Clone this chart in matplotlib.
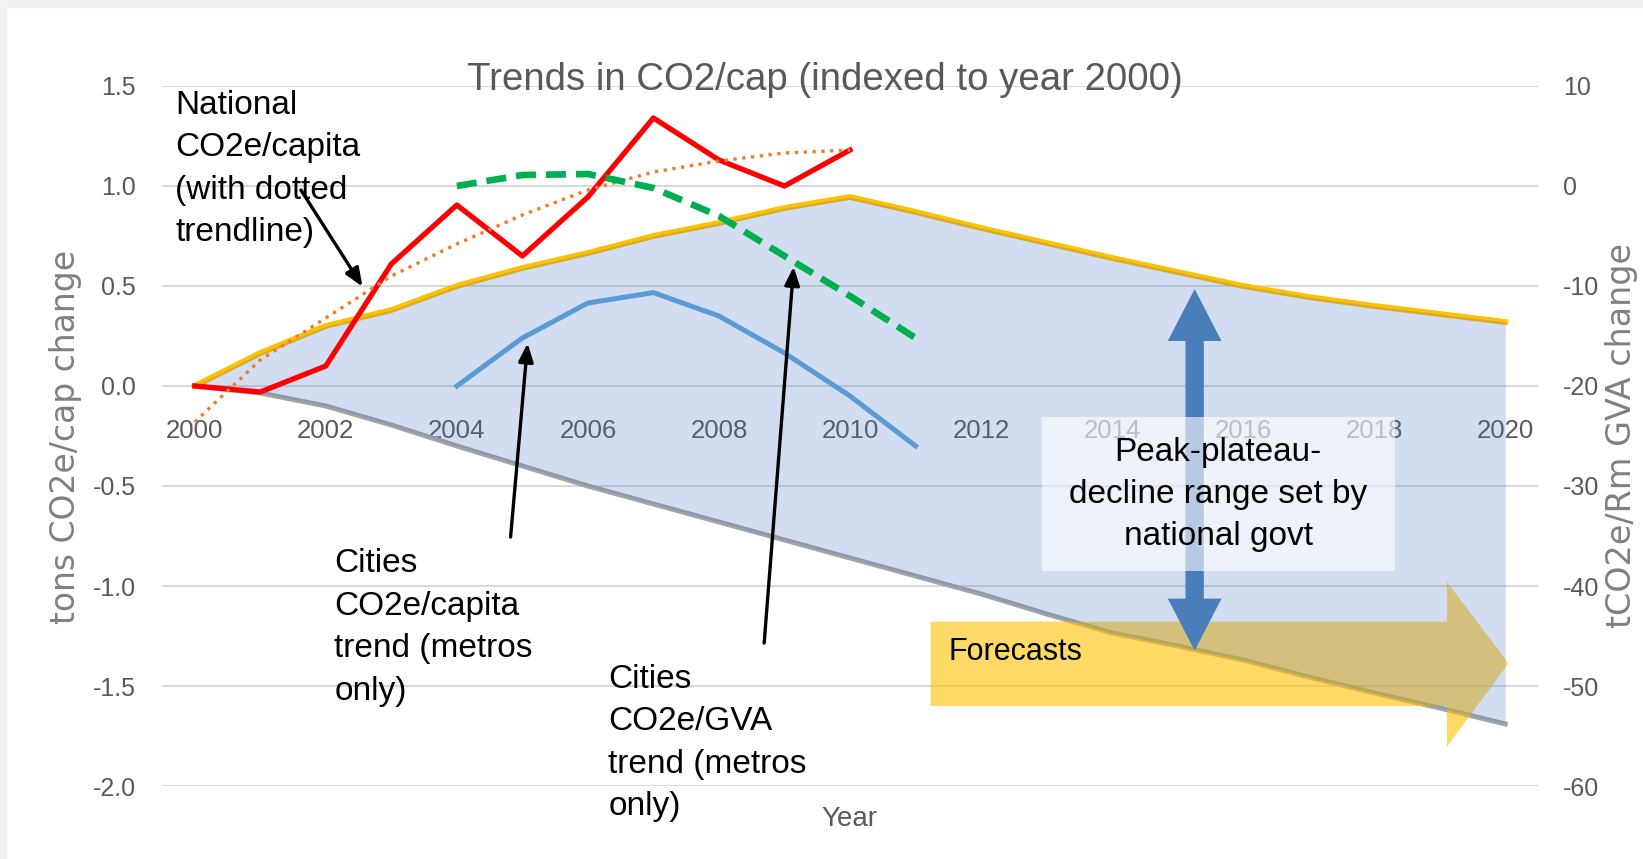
import matplotlib.pyplot as plt
from matplotlib.patches import Polygon, Rectangle

# data
years = list(range(2000, 2021))
years_hist = list(range(2000, 2011))
years_city = list(range(2004, 2012))

national = [0.0, -0.03, 0.10, 0.61, 0.905, 0.65, 0.945, 1.34, 1.13, 1.0, 1.18]
national_trend = [-0.18, 0.13, 0.34, 0.55, 0.71, 0.855, 0.98, 1.07, 1.125, 1.165, 1.18]
range_upper = [0.0, 0.165, 0.30, 0.38, 0.50, 0.59, 0.665, 0.75, 0.815, 0.89, 0.945,
               0.87, 0.79, 0.715, 0.64, 0.57, 0.50, 0.445, 0.40, 0.36, 0.32]
range_lower = [0.0, -0.035, -0.10, -0.195, -0.30, -0.40, -0.50, -0.59, -0.68, -0.77, -0.86,
               -0.95, -1.04, -1.14, -1.235, -1.30, -1.37, -1.455, -1.535, -1.61, -1.69]
city_cap = [0.0, 0.24, 0.415, 0.467, 0.35, 0.165, -0.05, -0.30]
city_gva = [0.0, 1.1, 1.2, -0.2, -3.0, -7.0, -11.0, -15.2]   # right axis

left_ticks = [1.5, 1.0, 0.5, 0.0, -0.5, -1.0, -1.5, -2.0]
right_ticks = [10, 0, -10, -20, -30, -40, -50, -60]
year_ticks = list(range(2000, 2021, 2))

FONT = ['Liberation Sans', 'DejaVu Sans']
GREY = '#595959'

fig = plt.figure(figsize=(16.43, 8.59), dpi=100)
# faint frame on top/left edge
fig.patches.append(Rectangle((0, 1 - 7 / 859), 1, 7 / 859, transform=fig.transFigure,
                             color='#eeeeee', zorder=0))
fig.patches.append(Rectangle((0, 0), 6 / 1643, 1, transform=fig.transFigure,
                             color='#f2f2f2', zorder=0))

ax = fig.add_axes([162 / 1643, 73 / 859, 1376 / 1643, 700 / 859])
ax.set_xlim(1999.5, 2020.5)
ax.set_ylim(-2.0, 1.5)
ax.set_yticks(left_ticks)
ax.set_yticklabels(['%.1f' % v for v in left_ticks])
ax.set_xticks(year_ticks)
ax.set_xticklabels([str(y) for y in year_ticks])
for s in ax.spines.values():
    s.set_visible(False)
ax.spines['bottom'].set_position(('data', 0))
ax.tick_params(axis='both', length=0)
ax.tick_params(axis='y', pad=19, labelcolor=GREY)
ax.tick_params(axis='x', pad=24, labelcolor=GREY)
for lab in ax.get_yticklabels():
    lab.set_family(FONT)
    lab.set_fontsize(18)
for lab in ax.get_xticklabels():
    lab.set_family(FONT)
    lab.set_fontsize(18.5)
ax.grid(axis='y', color='#d9d9d9', lw=1.5, zorder=0)
ax.set_axisbelow(True)

# range of outcomes: the boundary lines and forecast arrow sit under the shaded area
ax.plot(years, range_lower, color='#a5a5a5', lw=3.6, zorder=1.1)
ax.plot(years, range_upper, color='#ffc000', lw=4.2, zorder=1.1)
fc = Polygon([(2011.23, -1.178), (2019.11, -1.178), (2019.11, -0.979), (2020.05, -1.387),
              (2019.11, -1.803), (2019.11, -1.60), (2011.23, -1.60)],
             closed=True, facecolor='#ffc000', alpha=0.6, lw=0, zorder=1.3)
ax.add_patch(fc)
ax.fill_between(years, range_lower, range_upper, color='#4472c4', alpha=0.235, lw=0, zorder=1.5)

ax.plot(years_city, city_cap, color='#5b9bd5', lw=3.6, zorder=3)
ax.plot(years_hist, national, color='#ff0000', lw=3.8, zorder=3)
ax.plot(years_hist, national_trend, color='#ed7d31', lw=2.4, ls=':', zorder=3)

ax.text(2011.5, -1.33, 'Forecasts', family=FONT, fontsize=22, color='black',
        va='center', ha='left', zorder=7)

# double arrow for range
xc, ytop, ybot, hl, hw, sw = 2015.26, 0.485, -1.323, 0.26, 0.41, 0.14
da = Polygon([(xc, ytop), (xc + hw, ytop - hl), (xc + sw, ytop - hl), (xc + sw, ybot + hl),
              (xc + hw, ybot + hl), (xc, ybot), (xc - hw, ybot + hl), (xc - sw, ybot + hl),
              (xc - sw, ytop - hl), (xc - hw, ytop - hl)],
             closed=True, facecolor='#4a7ebb', lw=0, zorder=5)
ax.add_patch(da)
ax.add_patch(Rectangle((2012.93, -0.925), 5.39, 0.77, facecolor='white', alpha=0.6,
                       lw=0, zorder=6))
ax.text(2015.62, -0.543, 'Peak-plateau-\ndecline range set by\nnational govt', family=FONT,
        fontsize=24, ha='center', va='center', linespacing=1.45, zorder=7)

# annotations
ax.text(1999.70, 1.084, 'National\nCO2e/capita\n(with dotted\ntrendline)', family=FONT,
        fontsize=24, ha='left', va='center', linespacing=1.48, zorder=7)
ax.text(2002.13, -1.208, 'Cities\nCO2e/capita\ntrend (metros\nonly)', family=FONT,
        fontsize=24, ha='left', va='center', linespacing=1.48, zorder=7)
ax.text(2006.31, -1.785, 'Cities\nCO2e/GVA\ntrend (metros\nonly)', family=FONT,
        fontsize=24, ha='left', va='center', linespacing=1.48, zorder=7)
arrow_kw = dict(arrowstyle='-|>,head_length=1.1,head_width=0.45', color='black', lw=2.4,
                shrinkA=0, shrinkB=0)
ax.annotate('', xy=(2002.56, 0.497), xytext=(2001.62, 0.98), arrowprops=arrow_kw, zorder=7)
ax.annotate('', xy=(2005.08, 0.2135), xytext=(2004.82, -0.755), arrowprops=arrow_kw, zorder=7)
ax.annotate('', xy=(2009.14, 0.5965), xytext=(2008.69, -1.285), arrowprops=arrow_kw, zorder=7)

# right axis: CO2e per GVA
ax2 = ax.twinx()
ax2.set_ylim(-60, 10)
ax2.set_yticks(right_ticks)
ax2.set_yticklabels([str(v) for v in right_ticks])
for s in ax2.spines.values():
    s.set_visible(False)
ax2.tick_params(axis='y', length=0, pad=18, labelcolor=GREY)
for lab in ax2.get_yticklabels():
    lab.set_family(FONT)
    lab.set_fontsize(18)
ax2.plot(years_city, city_gva, color='#00b050', lw=4.8, ls=(0, (3.0, 1.5)), zorder=3)

# titles and axis labels
fig.text(825 / 1643, 1 - 80 / 859, 'Trends in CO2/cap (indexed to year 2000)', family=FONT,
         fontsize=27.6, color=GREY, ha='center', va='center')
fig.text(66 / 1643, 1 - 437 / 859, 'tons CO2e/cap change', family='DejaVu Sans', fontsize=23.8,
         color='#808080', rotation=90, ha='center', va='center')
fig.text(1622 / 1643, 1 - 435 / 859, 'tCO2e/Rm GVA change', family='DejaVu Sans', fontsize=24,
         color='#808080', rotation=90, ha='center', va='center')
fig.text(849 / 1643, 1 - 819 / 859, 'Year', family=FONT, fontsize=20, color=GREY,
         ha='center', va='center')

fig.savefig('out.png', dpi=100)
